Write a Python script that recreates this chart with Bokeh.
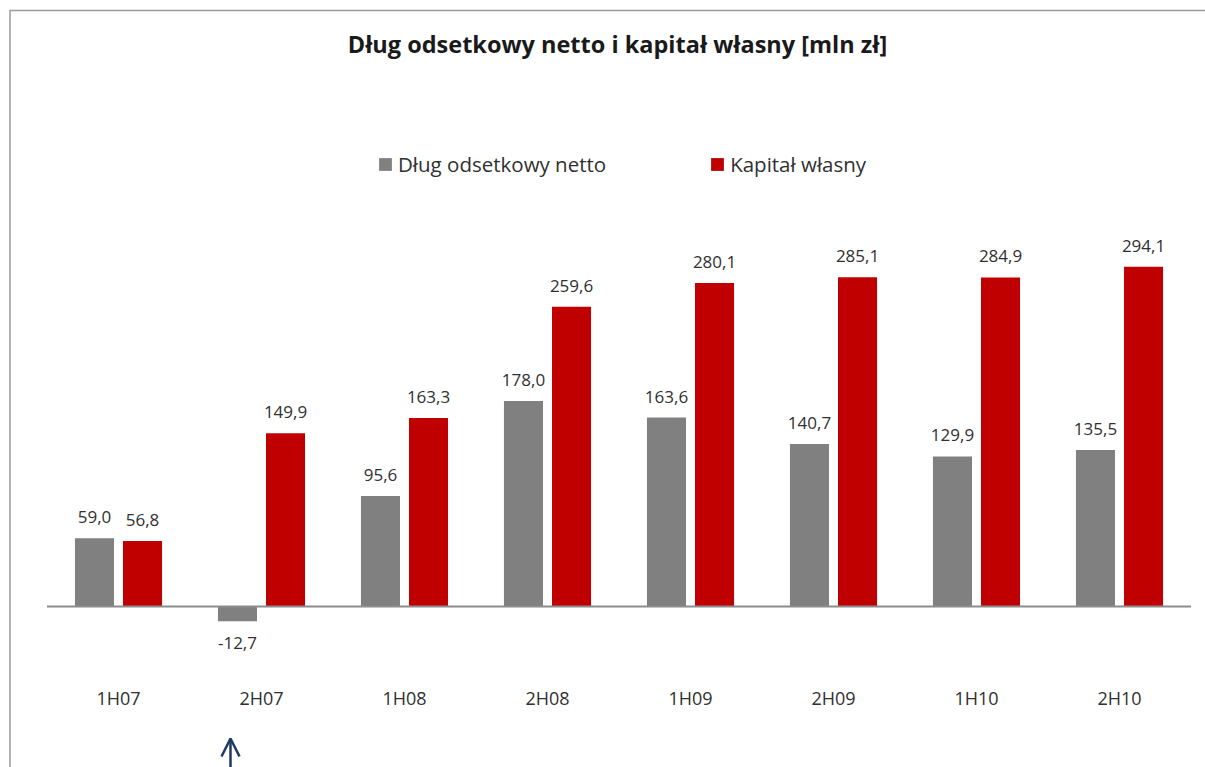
from bokeh.plotting import figure
from bokeh.models import Range1d, Label, Legend, LegendItem, Arrow, OpenHead, ColumnDataSource
from bokeh.core.properties import value
from bokeh.embed import file_html
from bokeh.resources import INLINE

# ---- data ----
categories = ["1H07", "2H07", "1H08", "2H08", "1H09", "2H09", "1H10", "2H10"]
net_debt = [59.0, -12.7, 95.6, 178.0, 163.6, 140.7, 129.9, 135.5]
equity = [56.8, 149.9, 163.3, 259.6, 280.1, 285.1, 284.9, 294.1]
series_names = ["Dług odsetkowy netto", "Kapitał własny"]
title_text = "Dług odsetkowy netto i kapitał własny [mln zł]"

# ---- layout constants ----
W, H = 1205, 767
PX_PER_CAT = 143.0
PX_PER_UNIT = 1.155
FIRST_CENTER_PX = 118.0
ZERO_PX = 606.0
FONT = "Open Sans"
GRAY = "#808080"
RED = "#C00000"

x_start = -FIRST_CENTER_PX / PX_PER_CAT
x_end = x_start + W / PX_PER_CAT
y_end = ZERO_PX / PX_PER_UNIT
y_start = y_end - H / PX_PER_UNIT


def fmt(v):
    return f"{v:.1f}".replace(".", ",")


idx = list(range(len(categories)))
OFF = 0.168
BW = 0.273

src = ColumnDataSource(dict(
    x=idx,
    cat=categories,
    debt=net_debt,
    eq=equity,
    xd=[i - OFF for i in idx],
    xe=[i + OFF for i in idx],
    debt_lbl=[fmt(v) for v in net_debt],
    eq_lbl=[fmt(v) for v in equity],
    debt_off=[-21 if v >= 0 else 22 for v in net_debt],
    eq_off=[-21 if v >= 0 else 22 for v in equity],
))

p = figure(width=W, height=H,
           x_range=Range1d(x_start, x_end), y_range=Range1d(y_start, y_end),
           x_axis_location=None, y_axis_location=None,
           output_backend="svg", toolbar_location=None, min_border=0)
p.grid.visible = False
p.outline_line_color = None
p.background_fill_color = "white"
p.border_fill_color = "white"

# chart-area border (left + top)
bx = x_start + 9.5 / PX_PER_CAT
by = y_end - 10.0 / PX_PER_UNIT
p.line([bx, bx, x_end], [y_start, by, by], line_color="#9a9a9a", line_width=1.5)

r1 = p.vbar(x="xd", top="debt", bottom=0, width=BW, source=src,
            fill_color=GRAY, line_color=None)
r2 = p.vbar(x="xe", top="eq", bottom=0, width=BW, source=src,
            fill_color=RED, line_color=None)

# zero line
p.line([idx[0] - 0.5, idx[-1] + 0.5], [0, 0], line_color="#8c8c8c", line_width=2)

# data labels
p.text(x="xd", y="debt", text="debt_lbl", y_offset="debt_off", source=src,
       text_align="center", text_baseline="middle",
       text_font=value(FONT), text_font_size="17px", text_color="#303030")
p.text(x="xe", y="eq", text="eq_lbl", y_offset="eq_off", source=src,
       text_align="center", text_baseline="middle",
       text_font=value(FONT), text_font_size="17px", text_color="#303030")

# category labels
p.text(x="x", y=0, text="cat", y_offset=91.5, source=src,
       text_align="center", text_baseline="middle",
       text_font=value(FONT), text_font_size="18px", text_color="#303030")

# title
p.add_layout(Label(x=617, y=724, x_units="screen", y_units="screen",
                   text=title_text, text_align="center", text_baseline="middle",
                   text_font=FONT, text_font_size="23.5px", text_font_style="bold",
                   text_color="#1a1a1a"))

# legend
legend = Legend(items=[LegendItem(label=series_names[0], renderers=[r1]),
                       LegendItem(label=series_names[1], renderers=[r2])],
                orientation="horizontal", location=(377, 589),
                glyph_width=16, glyph_height=16, label_standoff=5, spacing=103,
                padding=0, margin=0, border_line_color=None,
                background_fill_alpha=0,
                label_text_font=FONT, label_text_font_size="20.5px",
                label_text_color="#303030")
p.add_layout(legend)

# pointer arrow
p.add_layout(Arrow(end=OpenHead(size=18, line_color="#1f3864", line_width=2.5),
                   x_start=230, y_start=0, x_end=230, y_end=29,
                   start_units="screen", end_units="screen",
                   line_color="#1f3864", line_width=2.5))

open("out.html", "w").write(file_html(p, INLINE))
